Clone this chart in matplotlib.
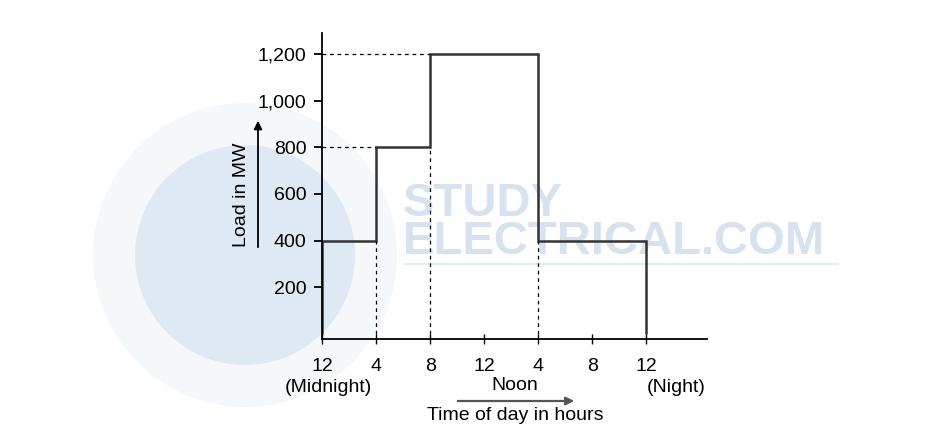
import matplotlib.pyplot as plt
from matplotlib.patches import Circle

plt.rcParams['font.family'] = ['Liberation Sans', 'DejaVu Sans']

# load curve data (hours from midnight, MW)
edges = [0, 4, 8, 16, 24]
load = [400, 800, 1200, 400]
x_ticks = [0, 4, 8, 12, 16, 20, 24]
x_ticklabels = ['12', '4', '8', '12', '4', '8', '12']
y_ticks = [200, 400, 600, 800, 1000, 1200]

W, H = 942, 443
fig = plt.figure(figsize=(W / 100, H / 100), dpi=100)

# faint watermark in the background (pixel coordinates)
bg = fig.add_axes([0, 0, 1, 1], zorder=0)
bg.set_xlim(0, W)
bg.set_ylim(H, 0)
bg.axis('off')
bg.add_patch(Circle((245, 255), 152, color='#f5f8fa', lw=0))
bg.add_patch(Circle((245, 255), 110, color='#dfe9f3', lw=0))
bg.text(403, 223, 'STUDY\nELECTRICAL.COM', fontsize=34, fontweight='bold',
        color='#d6e2ee', va='center', ha='left', linespacing=0.82)
bg.plot([405, 838], [264, 264], color='#e3ebf3', lw=1.5)

ax = fig.add_axes([322 / W, 1 - 339 / H, 385 / W, 306 / H], zorder=1)
ax.patch.set_alpha(0)

ax.stairs(load, edges, baseline=0, color='#333333', lw=1.8)

# dashed guide lines
for i in range(1, len(edges) - 1):
    ax.plot([edges[i], edges[i]], [0, min(load[i - 1], load[i])],
            color='black', lw=0.9, ls=(0, (3, 3)))
for i in range(1, len(load)):
    if load[i] > max(load[:i]):
        ax.plot([0, edges[i]], [load[i], load[i]],
                color='black', lw=0.9, ls=(0, (3, 3)))

ax.set_xlim(0, 28.5)
ax.set_ylim(-22, 1290)
ax.spines['top'].set_visible(False)
ax.spines['right'].set_visible(False)
ax.spines['left'].set_linewidth(1.3)
ax.spines['bottom'].set_linewidth(1.3)

ax.set_xticks(x_ticks)
ax.set_xticklabels(x_ticklabels, fontsize=14)
ax.set_yticks(y_ticks)
ax.set_yticklabels([f'{v:,}' for v in y_ticks], fontsize=14)
ax.tick_params(axis='x', direction='inout', length=7, width=1, pad=10)
ax.tick_params(axis='y', direction='out', length=6, width=1.3, pad=5)

# second row of x labels and axis titles
fig.text(328 / W, 1 - 387 / H, '(Midnight)', fontsize=14, ha='center', va='center')
fig.text(515 / W, 1 - 386 / H, 'Noon', fontsize=14, ha='center', va='center')
fig.text(676 / W, 1 - 387 / H, '(Night)', fontsize=14, ha='center', va='center')
fig.text(515 / W, 1 - 415 / H, 'Time of day in hours', fontsize=14, ha='center', va='center')
fig.text(241 / W, 1 - 195 / H, 'Load in MW', fontsize=14, rotation=90,
         ha='center', va='center')

bg.annotate('', xy=(577, 401), xytext=(455, 401),
            arrowprops=dict(arrowstyle='-|>', color='#555555', lw=1.6,
                            mutation_scale=12))
bg.annotate('', xy=(258, 118), xytext=(258, 250),
            arrowprops=dict(arrowstyle='-|>', color='black', lw=1.3,
                            mutation_scale=12))

fig.savefig('out.png', dpi=100)
